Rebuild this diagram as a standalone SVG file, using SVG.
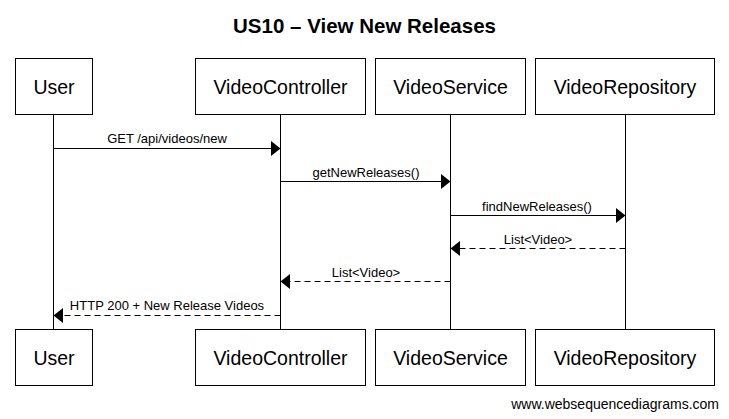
<svg xmlns="http://www.w3.org/2000/svg" width="729" height="419" viewBox="0 0 729 419">
<style>
.box{fill:#fff;stroke:#000;stroke-width:1}
.pt{font-family:"Liberation Sans",Arial,sans-serif;font-size:19.5px;text-anchor:middle;fill:#000}
.lbl{font-family:"Liberation Sans",Arial,sans-serif;font-size:13px;text-anchor:middle;fill:#000}
.life{stroke:#000;stroke-width:1}
.msg{stroke:#000;stroke-width:1;fill:none}
.ret{stroke:#000;stroke-width:1;fill:none;stroke-dasharray:6,4}
.head{fill:#000}
</style>
<rect width="729" height="419" fill="#fff"/>
<text x="364.5" y="33" font-family="'Liberation Sans',Arial,sans-serif" font-size="20.5" font-weight="bold" text-anchor="middle">US10 – View New Releases</text>
<g id="lifelines">
<line class="life" x1="53.5" y1="114" x2="53.5" y2="329"/>
<line class="life" x1="280.5" y1="114" x2="280.5" y2="329"/>
<line class="life" x1="450.5" y1="114" x2="450.5" y2="329"/>
<line class="life" x1="625.5" y1="114" x2="625.5" y2="329"/>
</g>
<g id="User">
<rect class="box" x="15.5" y="58.5" width="77" height="56"/>
<text class="pt" x="54" y="94">User</text>
<rect class="box" x="15.5" y="329.5" width="77" height="56"/>
<text class="pt" x="54" y="365">User</text>
</g>
<g id="VideoController">
<rect class="box" x="195.5" y="58.5" width="170" height="56"/>
<text class="pt" x="280.5" y="94">VideoController</text>
<rect class="box" x="195.5" y="329.5" width="170" height="56"/>
<text class="pt" x="280.5" y="365">VideoController</text>
</g>
<g id="VideoService">
<rect class="box" x="375.5" y="58.5" width="150" height="56"/>
<text class="pt" x="450.5" y="94">VideoService</text>
<rect class="box" x="375.5" y="329.5" width="150" height="56"/>
<text class="pt" x="450.5" y="365">VideoService</text>
</g>
<g id="VideoRepository">
<rect class="box" x="535.5" y="58.5" width="179" height="56"/>
<text class="pt" x="625" y="94">VideoRepository</text>
<rect class="box" x="535.5" y="329.5" width="179" height="56"/>
<text class="pt" x="625" y="365">VideoRepository</text>
</g>
<g id="connectors">
<line class="msg" x1="53.5" y1="148.5" x2="271" y2="148.5"/>
<polygon class="head" points="280.5,148.5 271,141 271,156"/>
<text class="lbl" x="167" y="143">GET /api/videos/new</text>
<line class="msg" x1="280.5" y1="181.5" x2="441" y2="181.5"/>
<polygon class="head" points="450.5,181.5 441,174 441,189"/>
<text class="lbl" x="366" y="177">getNewReleases()</text>
<line class="msg" x1="450.5" y1="215.5" x2="616" y2="215.5"/>
<polygon class="head" points="625.5,215.5 616,208 616,223"/>
<text class="lbl" x="537" y="211">findNewReleases()</text>
<line class="ret" x1="625.5" y1="248.5" x2="460" y2="248.5"/>
<polygon class="head" points="450.5,248.5 460,241 460,256"/>
<text class="lbl" x="538" y="244">List&lt;Video&gt;</text>
<line class="ret" x1="450.5" y1="281.5" x2="290" y2="281.5"/>
<polygon class="head" points="280.5,281.5 290,274 290,289"/>
<text class="lbl" x="366" y="277">List&lt;Video&gt;</text>
<line class="ret" x1="280.5" y1="315.5" x2="63" y2="315.5"/>
<polygon class="head" points="53.5,315.5 63,308 63,323"/>
<text class="lbl" x="167" y="310">HTTP 200 + New Release Videos</text>
</g>
<text x="719" y="409" font-family="'Liberation Sans',Arial,sans-serif" font-size="14" text-anchor="end">www.websequencediagrams.com</text>
</svg>
